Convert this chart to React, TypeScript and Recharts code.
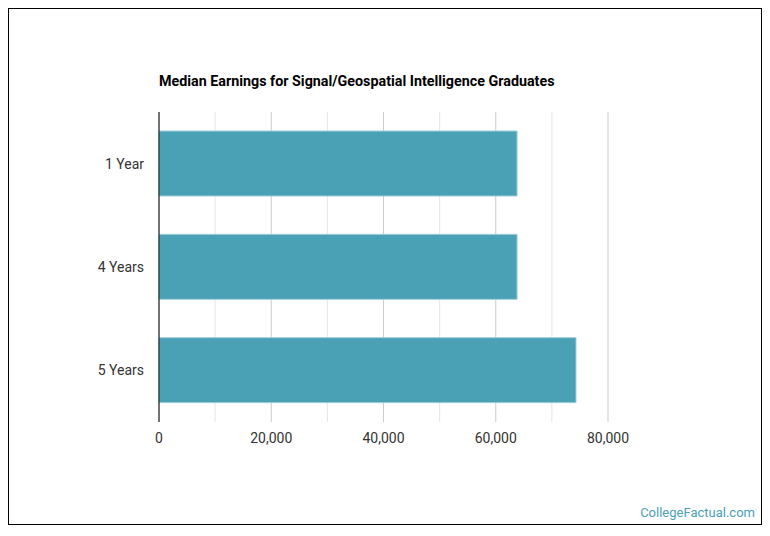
import React from 'react';
import { BarChart, Bar, XAxis, YAxis, CartesianGrid } from 'recharts';

const categories = ['1 Year', '4 Years', '5 Years'];
const earnings = [63800, 63800, 74300];
const majorTicks = [0, 20000, 40000, 60000, 80000];
const minorTicks = [10000, 30000, 50000, 70000];

const data = categories.map((name, i) => ({ name, value: earnings[i] }));

const FONT = 'Roboto, "Noto Sans", sans-serif';

const App: React.FC = () => {
    return (
        <div
            style={{
                position: 'relative',
                width: 752,
                height: 515,
                border: '1px solid #000',
                background: '#fff',
                fontFamily: FONT,
            }}
        >
            <div
                style={{
                    position: 'absolute',
                    left: 150,
                    top: 64,
                    fontSize: 14.3,
                    fontWeight: 700,
                    color: '#000',
                    whiteSpace: 'nowrap',
                }}
            >
                Median Earnings for Signal/Geospatial Intelligence Graduates
            </div>
            <BarChart
                width={752}
                height={515}
                data={data}
                layout="vertical"
                margin={{ top: 103, right: 153, left: 0, bottom: 72 }}
            >
                {/* light lines at the in-between 10k steps, darker ones at the labelled ticks */}
                <CartesianGrid horizontal={false} stroke="#e6e6e6" verticalValues={minorTicks} />
                <CartesianGrid horizontal={false} stroke="#cccccc" verticalValues={majorTicks} />
                <XAxis
                    type="number"
                    domain={[0, 80000]}
                    ticks={majorTicks}
                    tickFormatter={(v: number) => v.toLocaleString('en-US')}
                    axisLine={false}
                    tickLine={false}
                    tickSize={6}
                    tickMargin={5}
                    height={30}
                    tick={{ fill: '#333', fontSize: 14, fontFamily: FONT }}
                />
                <YAxis
                    type="category"
                    dataKey="name"
                    width={150}
                    axisLine={{ stroke: '#000', strokeWidth: 1 }}
                    tickLine={false}
                    tickSize={6}
                    tickMargin={9}
                    tick={{ fill: '#333', fontSize: 14, fontFamily: FONT }}
                />
                <Bar
                    dataKey="value"
                    fill="#4aa0b5"
                    stroke="#9fd0da"
                    strokeWidth={1}
                    barSize={65}
                    isAnimationActive={false}
                />
            </BarChart>
            <div
                style={{
                    position: 'absolute',
                    right: 6,
                    bottom: 4,
                    fontSize: 13,
                    color: '#4aa0b5',
                }}
            >
                CollegeFactual.com
            </div>
        </div>
    );
};

export default App;
